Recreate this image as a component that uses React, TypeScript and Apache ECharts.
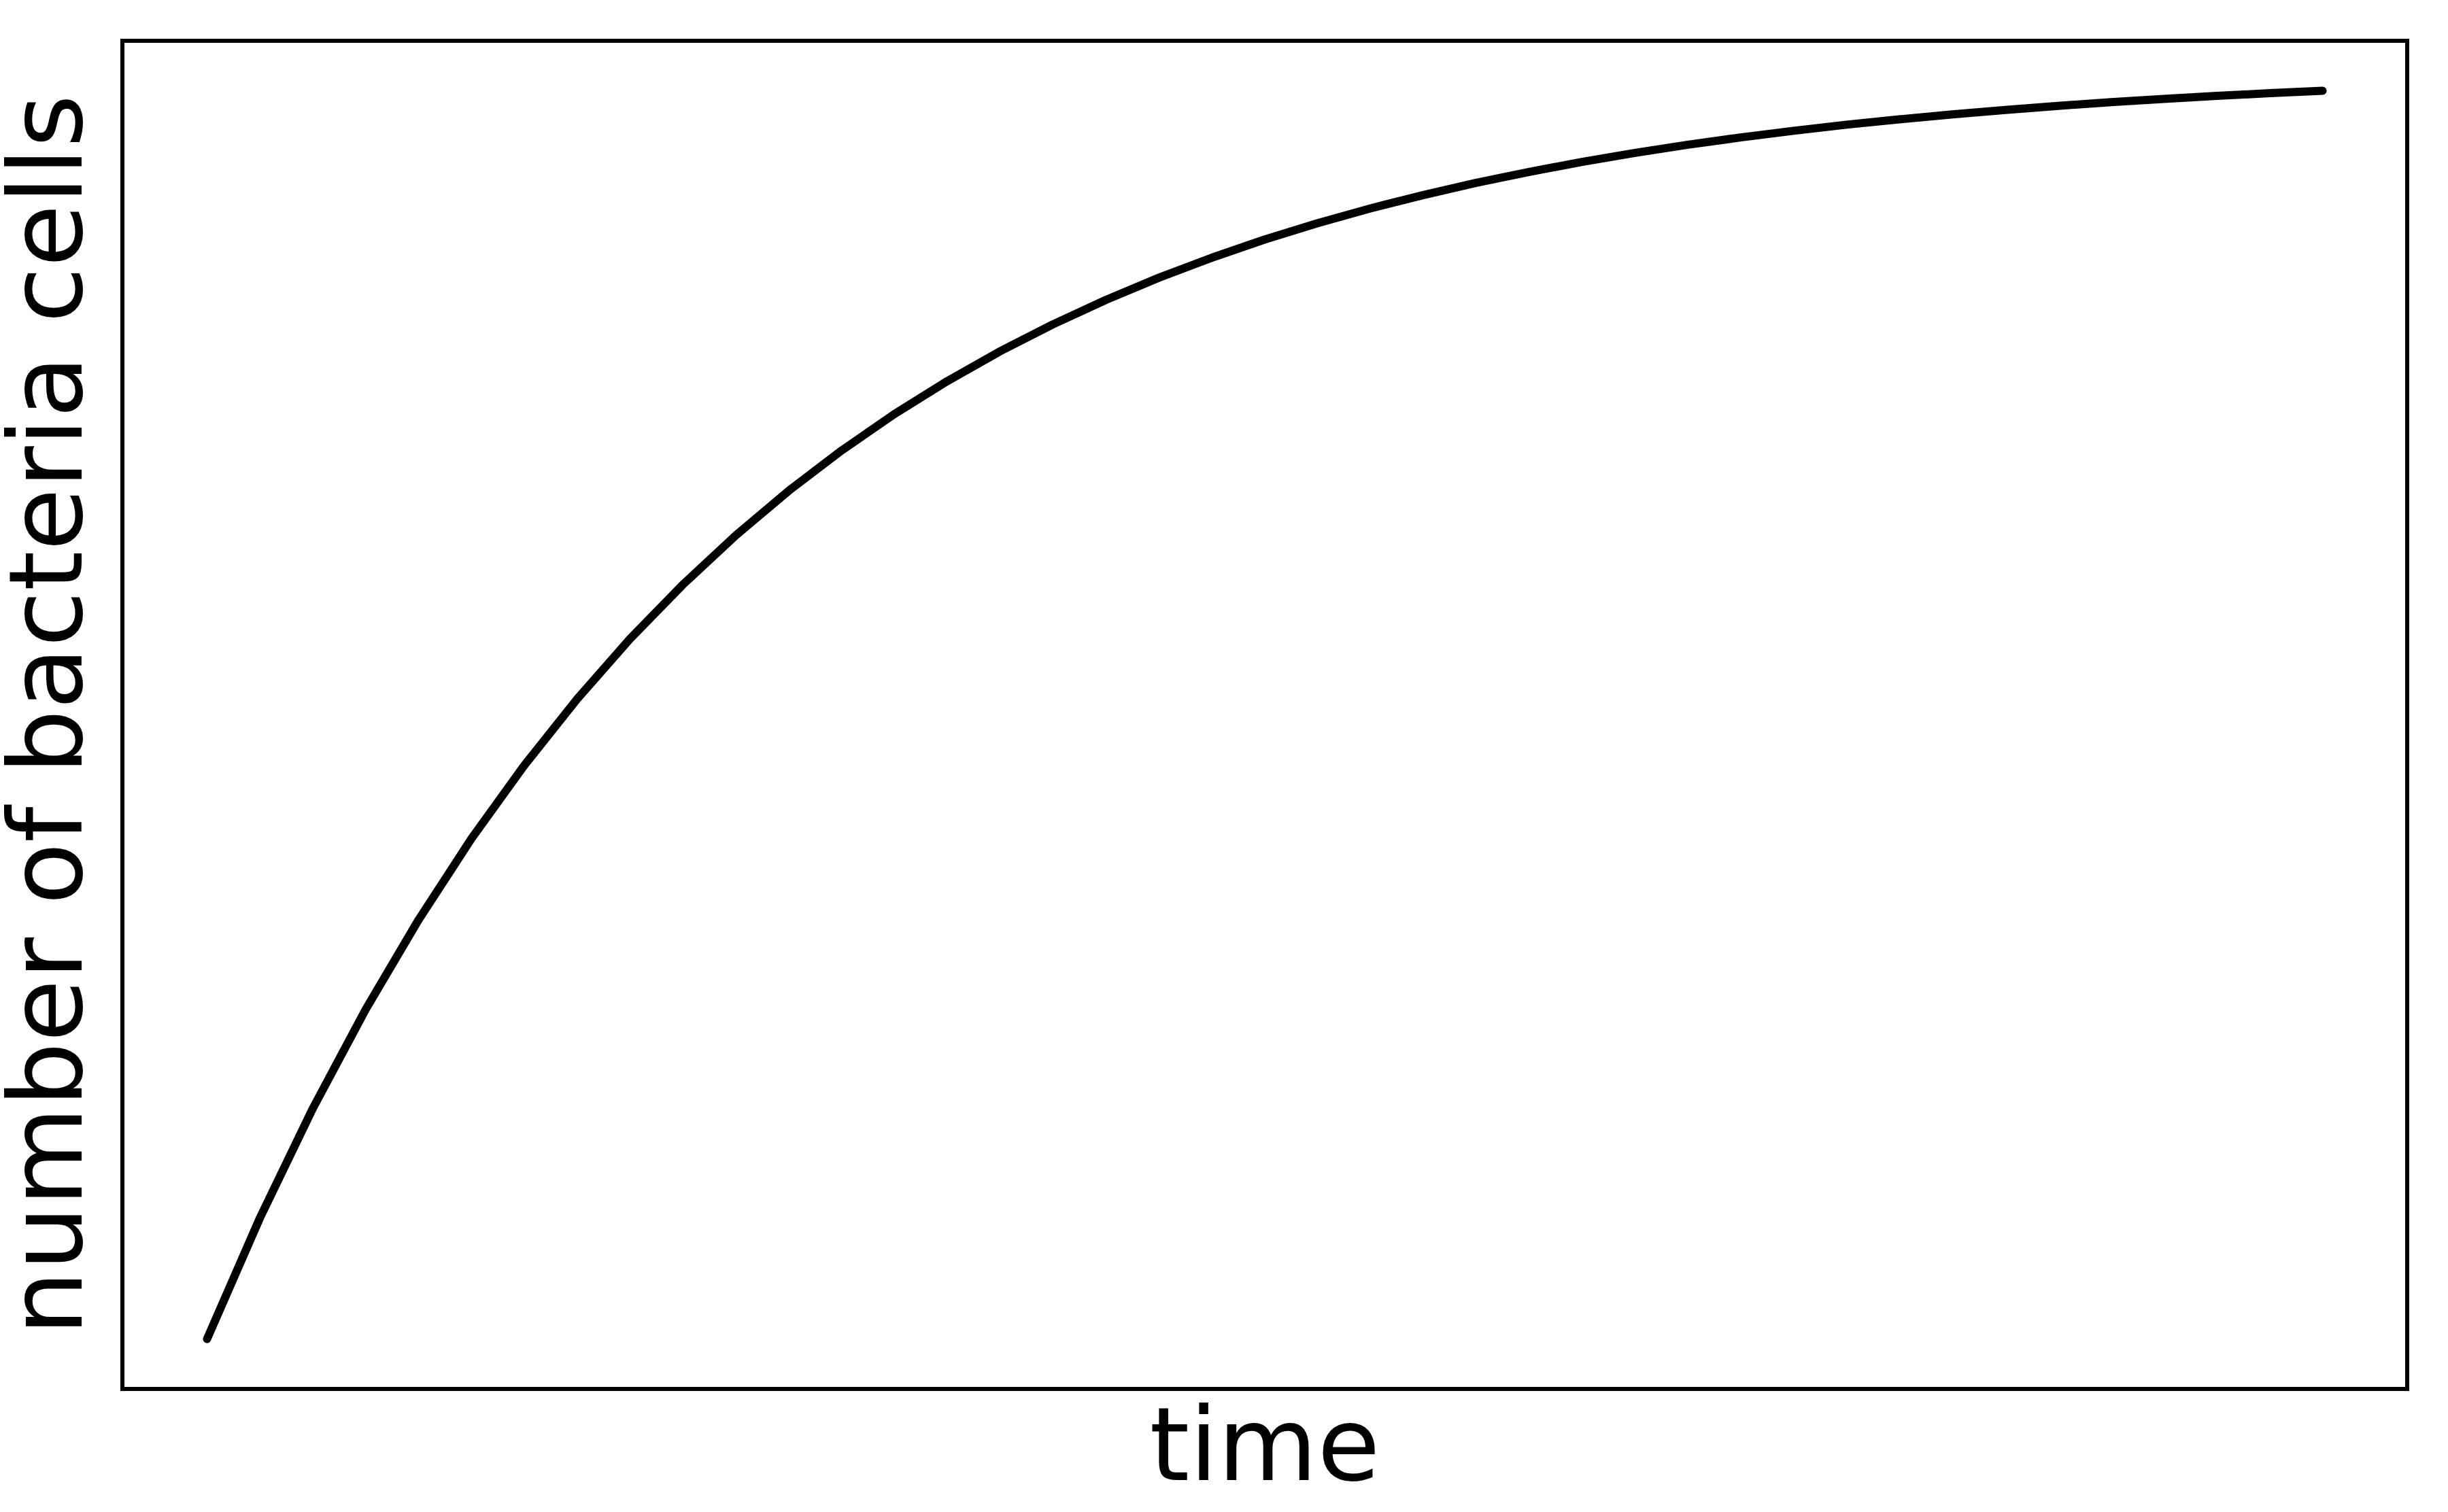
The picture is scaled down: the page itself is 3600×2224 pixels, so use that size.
import React, { useEffect, useRef } from "react";
import * as echarts from "echarts";

const timeValues = [0, 0.25, 0.5, 0.75, 1, 1.25, 1.5, 1.75, 2, 2.25, 2.5, 2.75, 3, 3.25, 3.5, 3.75, 4, 4.25, 4.5, 4.75, 5, 5.25, 5.5, 5.75, 6, 6.25, 6.5, 6.75, 7, 7.25, 7.5, 7.75, 8, 8.25, 8.5, 8.75, 9, 9.25, 9.5, 9.75, 10];
const cellValues = [0, 0.0952, 0.1813, 0.2592, 0.3297, 0.3935, 0.4512, 0.5034, 0.5507, 0.5934, 0.6321, 0.6671, 0.6988, 0.7275, 0.7534, 0.7769, 0.7981, 0.8173, 0.8347, 0.8504, 0.8647, 0.8775, 0.8892, 0.8997, 0.9093, 0.9179, 0.9257, 0.9328, 0.9392, 0.945, 0.9502, 0.955, 0.9592, 0.9631, 0.9666, 0.9698, 0.9727, 0.9753, 0.9776, 0.9798, 0.9817];
const xAxisTitle = "time";
const yAxisTitle = "number of bacteria cells";

export default function App() {
  const ref = useRef<HTMLDivElement>(null);
  useEffect(() => {
    if (!ref.current) return;
    const chart = echarts.init(ref.current, null, { renderer: "svg" });
    const yMin = Math.min(...cellValues);
    const yMax = Math.max(...cellValues);
    const yPad = (yMax - yMin) * 0.04;
    const xMin = Math.min(...timeValues);
    const xMax = Math.max(...timeValues);
    const xPad = (xMax - xMin) * 0.04;
    const font = "DejaVu Sans";
    chart.setOption({
      animation: false,
      backgroundColor: "#ffffff",
      grid: {
        left: 180,
        top: 60,
        right: 60,
        bottom: 181,
        show: true,
        borderColor: "#000000",
        borderWidth: 6,
        backgroundColor: "transparent",
        containLabel: false,
        outerBoundsMode: "none",
      },
      xAxis: {
        type: "value",
        min: xMin - xPad,
        max: xMax + xPad,
        axisLine: { show: false },
        axisTick: { show: false },
        axisLabel: { show: false },
        splitLine: { show: false },
        name: xAxisTitle,
        nameLocation: "middle",
        nameGap: 7,
        nameTextStyle: { fontFamily: font, fontSize: 150, color: "#000000", verticalAlign: "top" },
      },
      yAxis: {
        type: "value",
        min: yMin - yPad,
        max: yMax + yPad,
        axisLine: { show: false },
        axisTick: { show: false },
        axisLabel: { show: false },
        splitLine: { show: false },
        name: yAxisTitle,
        nameLocation: "middle",
        nameGap: 37,
        nameTextStyle: { fontFamily: font, fontSize: 150, color: "#000000", verticalAlign: "bottom" },
      },
      series: [
        {
          type: "line",
          data: timeValues.map((t, i) => [t, cellValues[i]]),
          smooth: false,
          showSymbol: false,
          lineStyle: { color: "#000000", width: 12, cap: "round", join: "round" },
        },
      ],
    });
    return () => chart.dispose();
  }, []);
  return <div ref={ref} style={{ position: "fixed", left: 0, top: 0, width: 3600, height: 2224, background: "#fff" }} />;
}
